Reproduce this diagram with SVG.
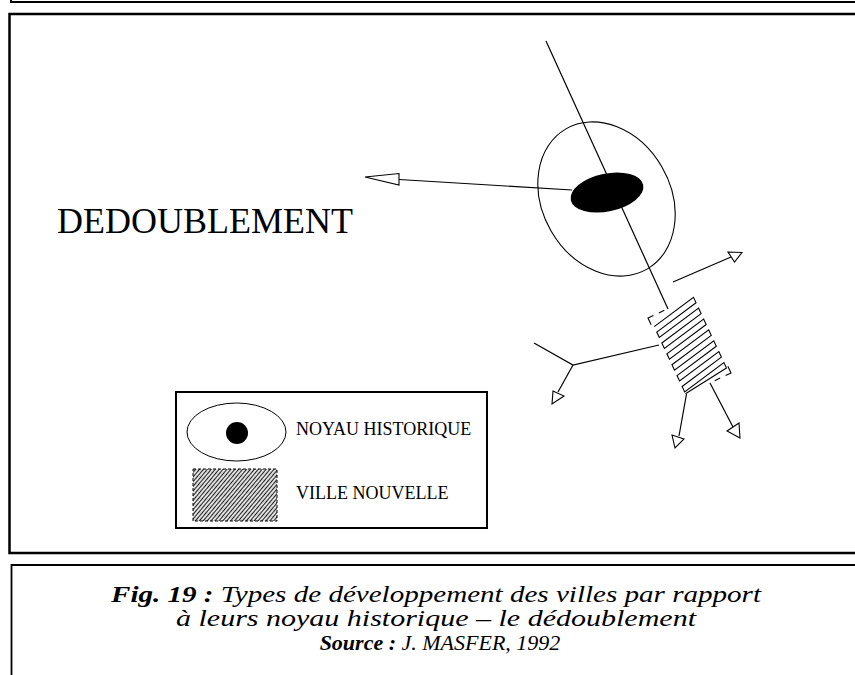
<svg xmlns="http://www.w3.org/2000/svg" width="855" height="675" viewBox="0 0 855 675">
<style>
.ln{fill:none;stroke:#000;stroke-width:1.2}
.ah{fill:#fff;stroke:#000;stroke-width:1.1}
.frame{fill:none;stroke:#000}
.t{font-family:"Liberation Serif","Times New Roman",serif;fill:#000}
</style>
<defs>
<pattern id="hatchL" width="3" height="3" patternUnits="userSpaceOnUse" patternTransform="rotate(-50)">
<line x1="0" y1="1.5" x2="3" y2="1.5" stroke="#222" stroke-width="1.3"/>
</pattern>
</defs>
<rect width="855" height="675" fill="#fff"/>
<polyline class="frame" points="11,-5 11,2 860,2" stroke-width="2"/>
<path class="frame" d="M860,14 H9.5 V553 H860" stroke-width="2.5"/>
<path class="frame" d="M860,565 H11.5 V680" stroke-width="1.8"/>

<g id="connectors">
<line class="ln" x1="546" y1="41" x2="668" y2="309"/>
<line class="ln" x1="399" y1="179.5" x2="572" y2="190"/>
<polygon class="ah" points="365,177 399,173.5 399,185"/>
<line class="ln" x1="673" y1="282" x2="731" y2="257"/>
<polygon class="ah" points="742,252.5 728,252 734.5,262"/>
<polyline class="ln" points="659,345 573,365 534,343"/>
<line class="ln" x1="573" y1="365" x2="558" y2="392"/>
<polygon class="ah" points="552,404 553,391 564,396"/>
<line class="ln" x1="686.5" y1="394" x2="679" y2="436"/>
<polygon class="ah" points="675,448 672,435 684,439"/>
<line class="ln" x1="710" y1="383" x2="733" y2="427"/>
<polygon class="ah" points="740,438 727,431 739,423"/>
</g>

<g id="noyau">
<ellipse cx="606.5" cy="199" rx="64" ry="81" transform="rotate(-30 606.5 199)" fill="none" stroke="#000" stroke-width="1.1"/>
<ellipse cx="607" cy="192.5" rx="37" ry="19" transform="rotate(-12 607 192.5)" fill="#000"/>
</g>

<g id="ville-nouvelle" transform="translate(689.5 345.5) rotate(-25)">
<polyline fill="none" stroke="#000" stroke-width="1.1" points="-24,-32 24,-42 24,-36 -24,-26 -24,-20 24,-30 24,-24 -24,-14 -24,-8 24,-18 24,-12 -24,-2 -24,4 24,-6 24,0 -24,10 -24,16 24,6 24,12 -24,22 -24,28 24,18 24,24 -24,34 -24,40 24,30 24,36 -24,42"/>
<polyline fill="none" stroke="#000" stroke-width="1.1" points="-26,-35 -26,-42.5 -20,-42.5"/>
<line x1="-14" y1="-42.5" x2="-8" y2="-42.5" stroke="#000" stroke-width="1.1"/>
<polyline fill="none" stroke="#000" stroke-width="1.1" points="26,35 26,42.5 20,42.5"/>
<line x1="14" y1="42.5" x2="8" y2="42.5" stroke="#000" stroke-width="1.1"/>
</g>

<g id="title">
<text class="t" x="57" y="233" font-size="36">DEDOUBLEMENT</text>
</g>

<g id="legend">
<rect x="176" y="392" width="311" height="136" fill="#fff" stroke="#000" stroke-width="2"/>
<ellipse cx="236.5" cy="432" rx="49.5" ry="29" fill="none" stroke="#000" stroke-width="1"/>
<circle cx="237" cy="433" r="11" fill="#000"/>
<rect x="193" y="469" width="84" height="52" fill="url(#hatchL)" stroke="#000" stroke-width="1" stroke-dasharray="3,2"/>
<text class="t" x="296" y="435" font-size="18">NOYAU HISTORIQUE</text>
<text class="t" x="296" y="499" font-size="18">VILLE NOUVELLE</text>
</g>

<g id="caption" class="t" font-style="italic" text-anchor="middle" font-size="24">
<text x="436" y="602" textLength="650" lengthAdjust="spacingAndGlyphs"><tspan font-weight="bold">Fig. 19 :</tspan> Types de développement des villes par rapport</text>
<text x="436" y="626" textLength="520" lengthAdjust="spacingAndGlyphs">à leurs noyau historique – le dédoublement</text>
<text x="440" y="650" font-size="22"><tspan font-weight="bold">Source :</tspan> J. MASFER, 1992</text>
</g>
</svg>
